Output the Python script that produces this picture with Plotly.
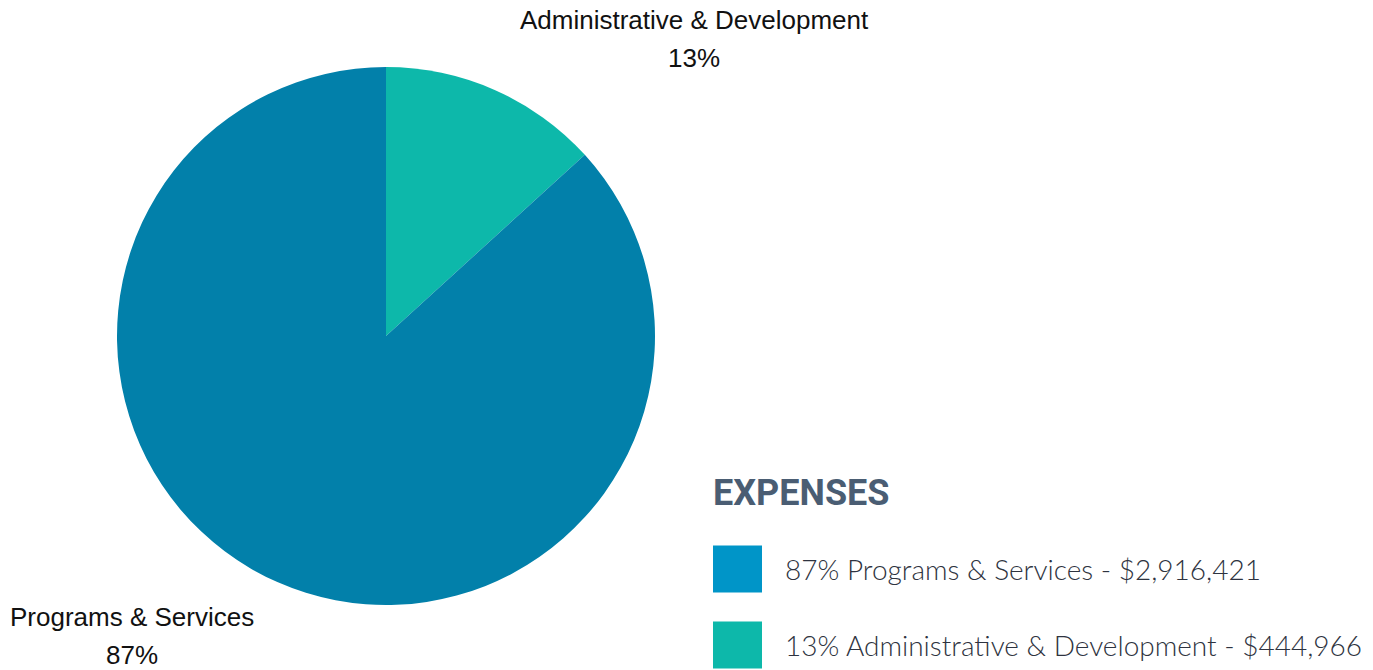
import plotly.graph_objects as go

categories = ["Programs & Services", "Administrative & Development"]
amounts = [2916421, 444966]
percents = ["87%", "13%"]
pie_colors = ["#0280aa", "#0db8aa"]
legend_colors = ["#0095c8", "#0db8aa"]
legend_title = "EXPENSES"

W, H = 1373, 670

fig = go.Figure()
# slices drawn clockwise from 12 o'clock, smaller slice first
fig.add_trace(go.Pie(
    labels=categories[::-1],
    values=amounts[::-1],
    sort=False,
    direction="clockwise",
    rotation=0,
    marker=dict(colors=pie_colors[::-1], line=dict(width=0)),
    textinfo="none",
    hoverinfo="label+percent",
    showlegend=False,
    domain=dict(x=[117 / W, 655 / W], y=[(H - 605) / H, (H - 67) / H]),
))

def px(x):
    return x / W

def py(y):
    return 1 - y / H

# slice labels (two lines each)
label_pos = {"Administrative & Development": (694, 20, 58), "Programs & Services": (132, 617, 655)}
for cat, pct in zip(categories, percents):
    x, y1, y2 = label_pos[cat]
    for txt, yy in ((cat, y1), (pct, y2)):
        fig.add_annotation(x=px(x), y=py(yy), xref="paper", yref="paper", text=txt,
                           showarrow=False, xanchor="center", yanchor="middle",
                           font=dict(family="Liberation Sans, Arial", size=26, color="#111111"))

# custom legend
fig.add_annotation(x=px(711), y=py(493), xref="paper", yref="paper", text="<b>" + legend_title + "</b>",
                   showarrow=False, xanchor="left", yanchor="middle",
                   font=dict(family="Roboto", size=36, color="#4a5d73"))
rows = [569, 645]
for cat, amt, pct, col, yc in zip(categories, amounts, percents, legend_colors, rows):
    fig.add_shape(type="rect", xref="paper", yref="paper",
                  x0=px(713), x1=px(762), y0=py(yc - 23.5), y1=py(yc + 23.5),
                  fillcolor=col, line=dict(width=0))
    fig.add_annotation(x=px(783), y=py(yc), xref="paper", yref="paper",
                       text=f"{pct} {cat} - ${amt:,}",
                       showarrow=False, xanchor="left", yanchor="middle",
                       font=dict(family="Lato", size=28, color="#2e3340", weight=300))

fig.update_layout(width=W, height=H, margin=dict(l=0, r=0, t=0, b=0),
                  paper_bgcolor="white", plot_bgcolor="white")
fig.write_html("out.html", config={"displayModeBar": False},
               post_script="document.body.style.margin='0';")
